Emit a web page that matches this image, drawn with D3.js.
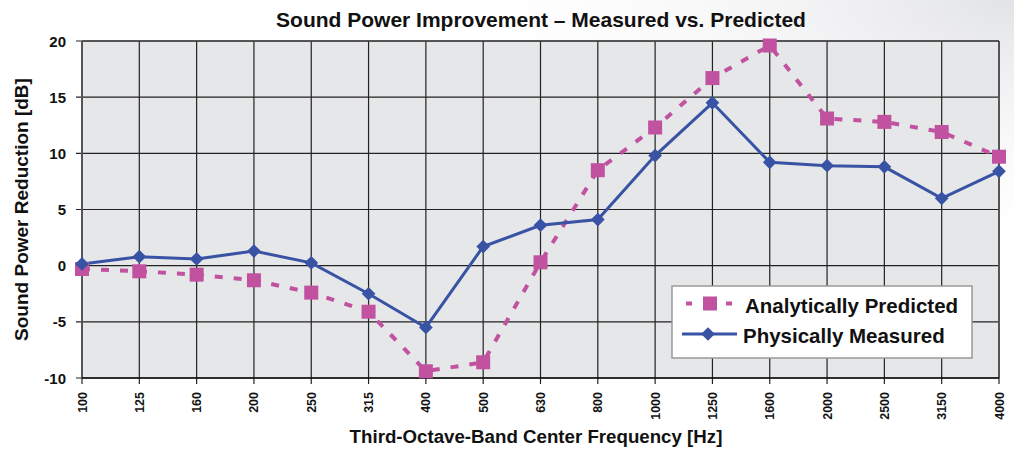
<!DOCTYPE html>
<html>
<head>
<meta charset="utf-8">
<script src="https://cdn.jsdelivr.net/npm/d3@7"></script>
<style>
  body { margin: 0; background: #fff; }
  svg text { font-family: "Liberation Sans", Arial, sans-serif; font-weight: bold; fill: #111; }
</style>
</head>
<body>
<div id="chart"></div>
<script>
// data
var freqs = ['100','125','160','200','250','315','400','500','630','800','1000','1250','1600','2000','2500','3150','4000'];
var predicted = [-0.3,-0.5,-0.8,-1.3,-2.4,-4.1,-9.4,-8.6,0.3,8.5,12.3,16.7,19.6,13.1,12.8,11.9,9.7];
var measured = [0.15,0.8,0.6,1.3,0.25,-2.5,-5.5,1.7,3.6,4.1,9.8,14.5,9.2,8.9,8.8,6.0,8.4];
var yTicks = [-10,-5,0,5,10,15,20];

var W = 1014, H = 449;
var margin = {top: 41, right: 15, bottom: 71, left: 82};
var width = W - margin.left - margin.right,
    height = H - margin.top - margin.bottom;

var pink = '#c052a0', blue = '#3953a4';

const svg = d3.select('#chart')
    .append('svg')
    .attr('width', W)
    .attr('height', H);

// faint gray sheen in the top right corner
var defs = svg.append('defs');
var grad = defs.append('radialGradient')
    .attr('id', 'sheen')
    .attr('cx', '100%').attr('cy', '0%').attr('r', '60%');
grad.append('stop').attr('offset', '0%').attr('stop-color', '#e2e3e6');
grad.append('stop').attr('offset', '100%').attr('stop-color', '#ffffff').attr('stop-opacity', 0);
svg.append('rect').attr('width', W).attr('height', H).attr('fill', '#fff');
svg.append('rect').attr('width', W).attr('height', H).attr('fill', 'url(#sheen)');

const group = svg.append('g')
    .attr('transform', 'translate(' + margin.left + ',' + margin.top + ')');

var x = d3.scalePoint().domain(freqs).range([0, width]);
var y = d3.scaleLinear().domain([-10, 20]).range([height, 0]);

group.append('rect')
    .attr('width', width).attr('height', height)
    .attr('fill', '#e6e7e9');

// grid
group.selectAll('.vgrid').data(freqs).enter().append('line')
    .attr('x1', d => x(d)).attr('x2', d => x(d))
    .attr('y1', 0).attr('y2', height + 6)
    .attr('stroke', '#222').attr('stroke-width', 1.2);
group.selectAll('.hgrid').data(yTicks).enter().append('line')
    .attr('x1', -6).attr('x2', width)
    .attr('y1', d => y(d)).attr('y2', d => y(d))
    .attr('stroke', '#222').attr('stroke-width', 1.2);

// frame
group.append('line').attr('x1', 0).attr('x2', 0).attr('y1', 0).attr('y2', height)
    .attr('stroke', '#555').attr('stroke-width', 2);
group.append('line').attr('x1', width).attr('x2', width).attr('y1', 0).attr('y2', height)
    .attr('stroke', '#555').attr('stroke-width', 2);
group.append('line').attr('x1', 0).attr('x2', width).attr('y1', 0).attr('y2', 0)
    .attr('stroke', '#444').attr('stroke-width', 1.5);
group.append('line').attr('x1', 0).attr('x2', width).attr('y1', height).attr('y2', height)
    .attr('stroke', '#111').attr('stroke-width', 1.5);

// y tick labels
group.selectAll('.ylab').data(yTicks).enter().append('text')
    .attr('x', -16).attr('y', d => y(d) + 5.5)
    .attr('text-anchor', 'end')
    .style('font-size', '15px')
    .text(d => d);

// x tick labels (rotated)
group.selectAll('.xlab').data(freqs).enter().append('text')
    .attr('transform', d => 'translate(' + (x(d) + 4.5) + ',' + (height + 14) + ') rotate(-90)')
    .attr('text-anchor', 'end')
    .style('font-size', '12.5px')
    .text(d => d);

// lines
var line = d3.line().x((d, i) => x(freqs[i])).y(d => y(d));

group.append('path').datum(predicted)
    .attr('d', line)
    .attr('fill', 'none')
    .attr('stroke', pink).attr('stroke-width', 4)
    .attr('stroke-dasharray', '8,11');

group.append('path').datum(measured)
    .attr('d', line)
    .attr('fill', 'none')
    .attr('stroke', blue).attr('stroke-width', 3);

group.selectAll('.sq').data(predicted).enter().append('rect')
    .attr('x', (d, i) => x(freqs[i]) - 7)
    .attr('y', d => y(d) - 7)
    .attr('width', 14).attr('height', 14)
    .attr('fill', pink);

var diamond = d3.symbol().type(d3.symbolDiamond2).size(120);
group.selectAll('.dm').data(measured).enter().append('path')
    .attr('d', diamond)
    .attr('transform', (d, i) => 'translate(' + x(freqs[i]) + ',' + y(d) + ')')
    .attr('fill', blue);

// title and axis titles
svg.append('text')
    .attr('x', 541).attr('y', 27)
    .attr('text-anchor', 'middle')
    .style('font-size', '21px')
    .text('Sound Power Improvement \u2013 Measured vs. Predicted');

svg.append('text')
    .attr('transform', 'translate(28,' + (margin.top + height / 2) + ') rotate(-90)')
    .attr('text-anchor', 'middle')
    .style('font-size', '19px')
    .text('Sound Power Reduction [dB]');

svg.append('text')
    .attr('x', 536).attr('y', 443)
    .attr('text-anchor', 'middle')
    .style('font-size', '18.7px')
    .text('Third-Octave-Band Center Frequency [Hz]');

// legend
var legend = svg.append('g').attr('transform', 'translate(672,286)');
legend.append('rect')
    .attr('width', 300).attr('height', 72)
    .attr('fill', '#fff').attr('stroke', '#999').attr('stroke-width', 1.5);

legend.selectAll('.dash').data([14, 54]).enter().append('line')
    .attr('x1', d => d).attr('x2', d => d + 6)
    .attr('y1', 17.5).attr('y2', 17.5)
    .attr('stroke', pink).attr('stroke-width', 4);
legend.append('rect')
    .attr('x', 31).attr('y', 10.5).attr('width', 14).attr('height', 14)
    .attr('fill', pink);
legend.append('text')
    .attr('x', 73).attr('y', 27)
    .style('font-size', '20.5px')
    .text('Analytically Predicted');

legend.append('line')
    .attr('x1', 10).attr('x2', 65).attr('y1', 48).attr('y2', 48)
    .attr('stroke', blue).attr('stroke-width', 3);
legend.append('path')
    .attr('d', diamond)
    .attr('transform', 'translate(36,48)')
    .attr('fill', blue);
legend.append('text')
    .attr('x', 71).attr('y', 57)
    .style('font-size', '20.5px')
    .text('Physically Measured');
</script>
</body>
</html>
